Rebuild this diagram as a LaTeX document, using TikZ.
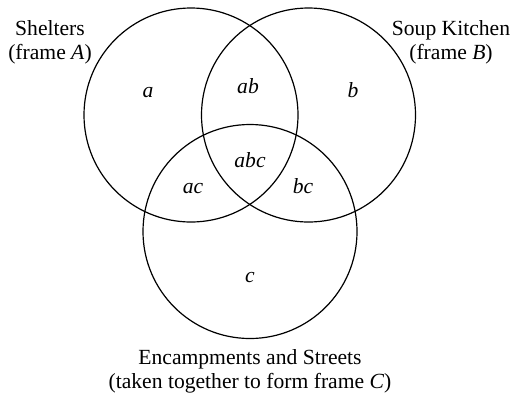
\documentclass[tikz,border=0pt]{standalone}
\usepackage{fontspec}
\setmainfont{Liberation Serif}
\usetikzlibrary{positioning}
\tikzset{every picture/.style={line width=0.6pt}}

\begin{document}
\begin{tikzpicture}[x=0.5pt,y=-0.5pt,align=center,font=\fontsize{10.8}{12}\selectfont,
        set/.style={circle,draw,minimum size=107pt,inner sep=0pt},
        region/.style={anchor=base,font=\fontsize{10.8}{12}\selectfont\itshape}]
        \useasboundingbox (0,0) rectangle (512,392);
        % the three frames
        \node[set] (A) at (191,115) {};
        \node[set] (B) at (308.5,115) {};
        \node[set] (C) at (250,231.5) {};
        % frame names
        \node (shelters) at (50,42) {Shelters\\(frame \textit{A})};
        \node (kitchen) at (451,42) {Soup Kitchen\\(frame \textit{B})};
        \node (streets) at (250,371) {Encampments and Streets\\(taken together to form frame \textit{C})};
        % regions
        \node[region] (a) at (148,97) {a};
        \node[region] (ab) at (248,93) {ab};
        \node[region] (b) at (353,97) {b};
        \node[region] (abc) at (250,167) {abc};
        \node[region] (ac) at (193,193) {ac};
        \node[region] (bc) at (303,193) {bc};
        \node[region] (c) at (250,282) {c};
    \end{tikzpicture}
\end{document}
